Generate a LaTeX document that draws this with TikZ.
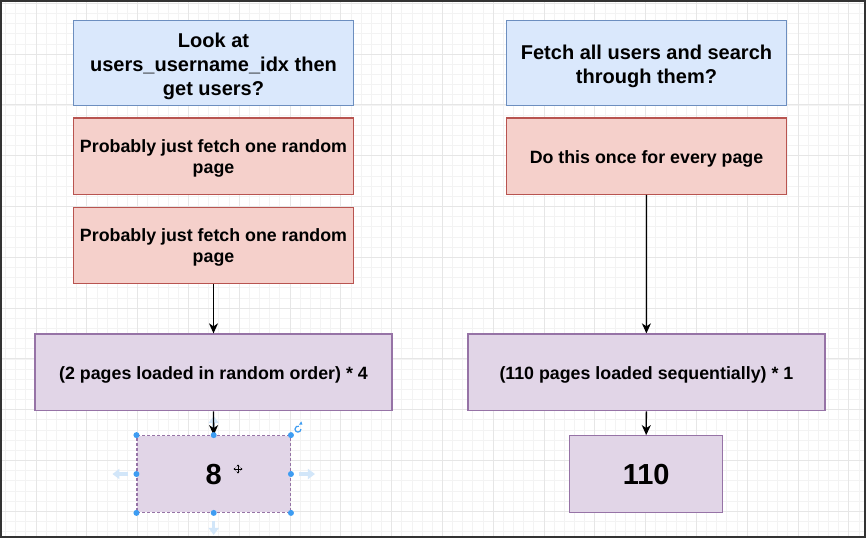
\documentclass[tikz,border=0pt]{standalone}
\usepackage{fontspec}
\setmainfont{Liberation Sans}
\usetikzlibrary{arrows.meta}
\definecolor{bfill}{HTML}{DAE8FC}\definecolor{bdraw}{HTML}{6C8EBF}
\definecolor{rfill}{HTML}{F5D0CB}\definecolor{rdraw}{HTML}{B85450}
\definecolor{pfill}{HTML}{E1D5E7}\definecolor{pdraw}{HTML}{9673A6}
\definecolor{gridminor}{HTML}{F3F3F3}\definecolor{gridmajor}{HTML}{E6E6E6}
\definecolor{frame}{HTML}{333333}
\definecolor{handle}{HTML}{3D9CF2}\definecolor{ghost}{HTML}{D2E6F9}
\tikzset{
  box/.style={draw, line width=1.2pt, inner sep=0pt},
  bluebox/.style={box, fill=bfill, draw=bdraw, minimum width=280.4pt, minimum height=85pt},
  redbox/.style={box, fill=rfill, draw=rdraw, minimum width=280.4pt, minimum height=76.3pt},
  widebox/.style={box, fill=pfill, draw=pdraw, minimum width=357pt, minimum height=76.7pt},
  numbox/.style={box, fill=pfill, draw=pdraw, minimum width=153.3pt, minimum height=76.6pt},
  txt/.style={inner sep=0pt, align=center},
  bigtxt/.style={txt, font=\bfseries\fontsize{20}{24}\selectfont},
  midtxt/.style={txt, font=\bfseries\fontsize{17.8}{21}\selectfont},
  numtxt/.style={txt, font=\bfseries\fontsize{29}{34}\selectfont},
  conn/.style={line width=1.3pt, -{Stealth[length=10pt,width=9pt,inset=3pt]}},
  minor/.style={gridminor, line width=0.8pt},
  major/.style={gridmajor, line width=1pt},
  hdot/.style={circle, fill=handle, inner sep=0pt, minimum size=6pt},
  ghostarrow/.style={ghost, line width=3.5pt, -{Triangle[length=7pt,width=10pt]}}
}
\begin{document}
\begin{tikzpicture}[x=1pt,y=-1pt]
\useasboundingbox (0,0) rectangle (866,538);
\fill[white] (0,0) rectangle (866,538);
% grid
\foreach \i in {0,...,85} { \draw[minor] ({5.52+\i*10.16},1) -- ({5.52+\i*10.16},536); }
\foreach \i in {0,...,52} { \draw[minor] (1,{3.3+\i*10.16}) -- (864,{3.3+\i*10.16}); }
\foreach \i in {0,...,16} { \draw[major] ({36+\i*50.8},1) -- ({36+\i*50.8},536); }
\foreach \i in {0,...,10} { \draw[major] (1,{3.3+\i*50.8}) -- (864,{3.3+\i*50.8}); }
\draw[frame, line width=2pt] (1,1) rectangle (864.5,536.5);

% left column
\node[bluebox] (b1) at (213.5,63.2) {};
\node[bigtxt] (t1) at ([yshift=-2.8pt]b1.center) {Look at\\users\_username\_idx then\\get users?};
\node[redbox] (r1) at (213.5,156.2) {};
\node[midtxt] (t2) at ([yshift=-2.5pt]r1.center) {Probably just fetch one random\\page};
\node[redbox] (r2) at (213.5,245.3) {};
\node[midtxt] (t3) at ([yshift=-2.5pt]r2.center) {Probably just fetch one random\\page};
\node[widebox] (p1) at (213.5,372.3) {};
\node[midtxt] (t4) at ([yshift=-3pt]p1.center) {(2 pages loaded in random order) * 4};
\node[numbox, dashed, dash pattern=on 3pt off 2pt] (n1) at (213.7,474) {};
\node[numtxt] (t5) at ([yshift=-0.5pt]n1.center) {8};

% right column
\node[bluebox] (b2) at (646.5,63.2) {};
\node[bigtxt] (t6) at ([yshift=-3pt]b2.center) {Fetch all users and search\\through them?};
\node[redbox] (r3) at (646.5,156.2) {};
\node[midtxt] (t7) at ([yshift=-3pt]r3.center) {Do this once for every page};
\node[widebox] (p2) at (646.4,372.3) {};
\node[midtxt] (t8) at ([yshift=-3pt]p2.center) {(110 pages loaded sequentially) * 1};
\node[numbox] (n2) at (646.2,474) {};
\node[numtxt] (t9) at ([yshift=-1pt]n2.center) {110};

% selection ghosts
\draw[ghostarrow] ([xshift=-8pt]n1.west) -- ++(-16,0);
\draw[ghostarrow] ([xshift=8pt]n1.east) -- ++(16,0);
\draw[ghostarrow] ([yshift=-8pt]n1.south) -- ++(0,14);
\draw[ghostarrow] ([yshift=5pt]n1.north) -- ++(0,-14);

% connectors
\draw[conn] (r2.south) -- (p1.north);
\draw[conn] (p1.south) -- (n1.north);
\draw[conn] (r3.south) -- (p2.north);
\draw[conn] (p2.south) -- (n2.north);

% selection handles
\foreach \a in {north west,north,north east,west,east,south west,south,south east}
  { \node[hdot] at (n1.\a) {}; }
\coordinate (rot) at ([xshift=7pt,yshift=6pt]n1.north east);
\draw[handle, line width=1.2pt] ([xshift=3pt]rot) arc (0:-290:3pt);
\fill[handle] ([xshift=1pt,yshift=4.5pt]rot) -- ++(3.5,0) -- ++(-1.2,-3.2) -- cycle;
% move cursor
\coordinate (cur) at (238,469);
\draw[line width=0.8pt, -{Stealth[length=2pt,width=3pt]}] (cur) -- ++(4.5,0);
\draw[line width=0.8pt, -{Stealth[length=2pt,width=3pt]}] (cur) -- ++(-4.5,0);
\draw[line width=0.8pt, -{Stealth[length=2pt,width=3pt]}] (cur) -- ++(0,4.5);
\draw[line width=0.8pt, -{Stealth[length=2pt,width=3pt]}] (cur) -- ++(0,-4.5);
\end{tikzpicture}
\end{document}
